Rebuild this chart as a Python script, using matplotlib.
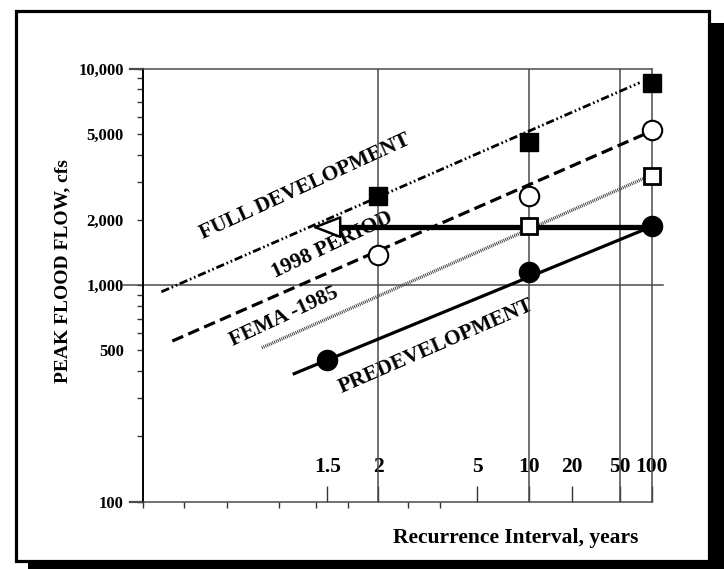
import math
import numpy as np
import matplotlib
matplotlib.use('Agg')
import matplotlib.pyplot as plt
from matplotlib.patches import Rectangle
from matplotlib.ticker import FixedLocator, FixedFormatter, NullFormatter

plt.rcParams['font.family'] = ['Liberation Serif', 'DejaVu Serif']
plt.rcParams['font.weight'] = 'bold'
plt.rcParams['lines.scale_dashes'] = False

# --- data (recurrence interval in years, peak flow in cfs) ---
FD_T = [2, 10, 100]
FD_Q = [2575, 4590, 8550]
P98_T = [2, 10, 100]
P98_Q = [1375, 2575, 5200]
FEMA_T = [10, 100]
FEMA_Q = [1880, 3200]
PRE_T = [1.5, 10, 100]
PRE_Q = [451, 1152, 1865]

# fitted frequency lines (end points)
FD_LINE_T = [1.034, 76]
FD_LINE_Q = [930, 8600]
P98_LINE_T = [1.042, 100]
P98_LINE_Q = [551, 5150]
FEMA_LINE_T = [1.193, 100]
FEMA_LINE_Q = [513, 3230]
PRE_LINE_T = [1.306, 100]
PRE_LINE_Q = [387, 1865]

# arrow: 100-yr predevelopment flow carried back to the left
ARROW_T = [100, 1.57, 1.402]   # start, head base, tip
ARROW_Q = 1850

X_TICKS = [1.5, 2, 5, 10, 20, 50, 100]
X_LABELS = ['1.5', '2', '5', '10', '20', '50', '100']
X_MINOR_F = [0.05, 0.1, 0.2, 0.3, 0.4, 0.6, 0.7]
X_GRID = [2, 10, 50]
XLIM = (1.0235, 100)

Y_TICKS = [100, 500, 1000, 2000, 5000, 10000]
Y_LABELS = ['100', '500', '1,000', '2,000', '5,000', '10,000']


# normal probability paper: x = z of non-exceedance probability 1 - 1/T
def _ppf(p):
    a = [-3.969683028665376e+01, 2.209460984245205e+02, -2.759285104469687e+02,
         1.383577518672690e+02, -3.066479806614716e+01, 2.506628277459239e+00]
    b = [-5.447609879822406e+01, 1.615858368580409e+02, -1.556989798598866e+02,
         6.680131188771972e+01, -1.328068155288572e+01]
    c = [-7.784894002430293e-03, -3.223964580411365e-01, -2.400758277161838e+00,
         -2.549732539343734e+00, 4.374664141464968e+00, 2.938163982698783e+00]
    d = [7.784695709041462e-03, 3.224671290700398e-01, 2.445134137142996e+00,
         3.754408661907416e+00]
    plow = 0.02425
    if p < plow:
        q = math.sqrt(-2 * math.log(p))
        return (((((c[0]*q + c[1])*q + c[2])*q + c[3])*q + c[4])*q + c[5]) / \
               ((((d[0]*q + d[1])*q + d[2])*q + d[3])*q + 1)
    if p > 1 - plow:
        q = math.sqrt(-2 * math.log(1 - p))
        return -(((((c[0]*q + c[1])*q + c[2])*q + c[3])*q + c[4])*q + c[5]) / \
                ((((d[0]*q + d[1])*q + d[2])*q + d[3])*q + 1)
    q = p - 0.5
    r = q * q
    return (((((a[0]*r + a[1])*r + a[2])*r + a[3])*r + a[4])*r + a[5])*q / \
           (((((b[0]*r + b[1])*r + b[2])*r + b[3])*r + b[4])*r + 1)


_vppf = np.vectorize(_ppf, otypes=[float])
_verf = np.vectorize(math.erf, otypes=[float])


def fwd(T):
    T = np.clip(np.asarray(T, dtype=float), 1.00001, 1e6)
    return _vppf(1 - 1 / T)


def inv(z):
    z = np.asarray(z, dtype=float)
    F = np.clip(0.5 * (1 + _verf(z / math.sqrt(2))), 0, 1 - 1e-9)
    return 1 / (1 - F)


fig = plt.figure(figsize=(7.24, 5.69), dpi=100)

# drop shadow and framed box
fig.add_artist(Rectangle((28 / 724, 0), 1, (569 - 23) / 569, transform=fig.transFigure,
                         fc='black', ec='none', zorder=-2))
fig.add_artist(Rectangle((15.5 / 724, 1 - 560.5 / 569), 693 / 724, 550 / 569,
                         transform=fig.transFigure, fc='white', ec='black', lw=2.3, zorder=-1))

ax = fig.add_axes([143 / 724, 1 - 501.5 / 569, 509 / 724, 433 / 569])
ax.set_facecolor('none')
ax.set_xscale('function', functions=(fwd, inv))
ax.set_yscale('log')
ax.set_xlim(*XLIM)
ax.set_ylim(100, 10000)

grid_c = '#4a4a4a'
for s in ['top', 'right', 'bottom']:
    ax.spines[s].set_color(grid_c)
    ax.spines[s].set_linewidth(1.1)
ax.spines['left'].set_linewidth(1.4)

# x ticks
ax.xaxis.set_major_locator(FixedLocator(X_TICKS))
ax.xaxis.set_major_formatter(FixedFormatter(X_LABELS))
minor_T = [1 / (1 - f) for f in X_MINOR_F] + [XLIM[0], 2, 50]
ax.xaxis.set_minor_locator(FixedLocator(minor_T))
ax.xaxis.set_minor_formatter(NullFormatter())
ax.tick_params(axis='x', which='major', direction='in', length=11.5, width=1.0,
               color='#333333', pad=-32, labelsize=15.5)
ax.tick_params(axis='x', which='minor', direction='out', length=4, width=1.0,
               color='#333333')

# y ticks
ax.yaxis.set_major_locator(FixedLocator(Y_TICKS))
ax.yaxis.set_major_formatter(FixedFormatter(Y_LABELS))
y_minor = [m * 10 ** e for e in (2, 3) for m in range(2, 10)]
y_minor = [v for v in y_minor if v not in Y_TICKS]
ax.yaxis.set_minor_locator(FixedLocator(y_minor))
ax.yaxis.set_minor_formatter(NullFormatter())
ax.tick_params(axis='y', which='both', direction='out', length=4.3, width=1.0,
               color='#333333', pad=9.5, labelsize=12)

# grid
for t in X_GRID:
    ax.axvline(t, color=grid_c, lw=1.1, zorder=2)
ax.axhline(1000, xmin=-0.039, xmax=1.022, color=grid_c, lw=1.1, clip_on=False, zorder=2)
ax.axhline(10000, xmin=-0.0255, xmax=0, color=grid_c, lw=1.6, clip_on=False)
ax.axhline(100, xmin=-0.0255, xmax=0, color=grid_c, lw=1.6, clip_on=False)

# frequency lines
ax.plot(FD_LINE_T, FD_LINE_Q, color='black', lw=2.0,
        dashes=(6, 2, 1.2, 2, 1.2, 2), dash_capstyle='butt')
ax.plot(P98_LINE_T, P98_LINE_Q, color='black', lw=2.3, dashes=(8.5, 4), dash_capstyle='butt')
ax.plot(FEMA_LINE_T, FEMA_LINE_Q, color='#444444', lw=2.4, dashes=(0.7, 0.7),
        dash_capstyle='butt')
ax.plot(PRE_LINE_T, PRE_LINE_Q, color='black', lw=2.3, solid_capstyle='butt')

# arrow
ax.plot(ARROW_T[:2], [ARROW_Q, ARROW_Q], color='black', lw=3.8, solid_capstyle='butt', zorder=3)
ax.annotate('', xy=(ARROW_T[2], ARROW_Q), xytext=(ARROW_T[1], ARROW_Q),
            arrowprops=dict(arrowstyle='-|>,head_length=18,head_width=7', mutation_scale=1,
                            fc='white', ec='black', lw=1.8, shrinkA=0, shrinkB=0),
            zorder=3)

# points
ax.plot(FD_T, FD_Q, 's', ms=12.5, color='black', clip_on=False, zorder=4)
ax.plot(P98_T, P98_Q, 'o', ms=14, mfc='white', mec='black', mew=1.5, clip_on=False, zorder=4)
ax.plot(FEMA_T, FEMA_Q, 's', ms=12, mfc='white', mec='black', mew=2, clip_on=False, zorder=4)
ax.plot(PRE_T, PRE_Q, 'o', ms=14.5, color='black', clip_on=False, zorder=4)

# line labels
lab = dict(transform=ax.transAxes, ha='center', va='center', fontsize=15.5,
           rotation_mode='anchor', zorder=1.8)
ax.text(0.318, 0.728, 'FULL DEVELOPMENT', rotation=24.6, **lab)
ax.text(0.372, 0.592, '1998 PERIOD', rotation=25.5, **lab)
ax.text(0.277, 0.428, 'FEMA -1985', rotation=25, **lab)
ax.text(0.576, 0.358, 'PREDEVELOPMENT', rotation=23.5, **lab)

fig.text(63 / 724, 1 - 271 / 569, 'PEAK FLOOD FLOW, cfs', rotation=90,
         ha='center', va='center', fontsize=14)
fig.text(638 / 724, 1 - 538 / 569, 'Recurrence Interval, years',
         ha='right', va='center', fontsize=15.5)

fig.savefig('out.png', dpi=100)
